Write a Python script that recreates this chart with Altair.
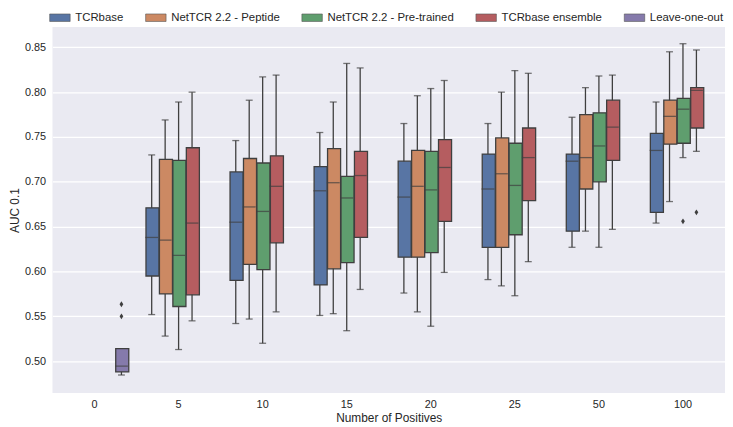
import altair as alt
import pandas as pd

positives = ["0", "5", "10", "15", "20", "25", "50", "100"]
models = ["TCRbase", "NetTCR 2.2 - Peptide", "NetTCR 2.2 - Pre-trained",
          "TCRbase ensemble", "Leave-one-out"]
colors = ["#5875A4", "#CC8963", "#5F9E6E", "#B55D60", "#857AAB"]

# groups with the four main models
group_pos = ["5", "10", "15", "20", "25", "50", "100"]

tcrbase_lo = [0.552, 0.542, 0.551, 0.576, 0.591, 0.627, 0.654]
tcrbase_q1 = [0.595, 0.590, 0.585, 0.616, 0.627, 0.645, 0.666]
tcrbase_med = [0.638, 0.655, 0.690, 0.683, 0.692, 0.723, 0.735]
tcrbase_q3 = [0.671, 0.711, 0.717, 0.723, 0.731, 0.731, 0.754]
tcrbase_hi = [0.730, 0.746, 0.755, 0.765, 0.765, 0.772, 0.789]

peptide_lo = [0.528, 0.547, 0.553, 0.555, 0.584, 0.645, 0.678]
peptide_q1 = [0.575, 0.608, 0.603, 0.616, 0.627, 0.692, 0.742]
peptide_med = [0.635, 0.672, 0.699, 0.695, 0.709, 0.727, 0.773]
peptide_q3 = [0.725, 0.726, 0.737, 0.735, 0.749, 0.775, 0.791]
peptide_hi = [0.769, 0.791, 0.789, 0.796, 0.800, 0.805, 0.845]

pretrained_lo = [0.513, 0.520, 0.534, 0.539, 0.573, 0.627, 0.727]
pretrained_q1 = [0.561, 0.602, 0.610, 0.621, 0.641, 0.700, 0.743]
pretrained_med = [0.618, 0.667, 0.682, 0.691, 0.696, 0.740, 0.781]
pretrained_q3 = [0.724, 0.721, 0.706, 0.734, 0.743, 0.777, 0.793]
pretrained_hi = [0.789, 0.817, 0.832, 0.804, 0.824, 0.818, 0.854]

ensemble_lo = [0.545, 0.555, 0.580, 0.599, 0.611, 0.647, 0.734]
ensemble_q1 = [0.574, 0.632, 0.638, 0.656, 0.679, 0.724, 0.760]
ensemble_med = [0.654, 0.695, 0.707, 0.716, 0.727, 0.761, 0.802]
ensemble_q3 = [0.738, 0.729, 0.734, 0.747, 0.760, 0.791, 0.805]
ensemble_hi = [0.800, 0.819, 0.827, 0.813, 0.821, 0.819, 0.847]

# Leave-one-out at 0 positives
loo_pos = "0"
loo_lo, loo_q1, loo_med, loo_q3, loo_hi = 0.4846, 0.488, 0.4944, 0.514, 0.514

outlier_pos = ["0", "0", "100", "100"]
outlier_model = ["Leave-one-out", "Leave-one-out", "NetTCR 2.2 - Pre-trained", "TCRbase ensemble"]
outlier_val = [0.5635, 0.550, 0.656, 0.666]

rows = []
series = [
    ("TCRbase", tcrbase_lo, tcrbase_q1, tcrbase_med, tcrbase_q3, tcrbase_hi),
    ("NetTCR 2.2 - Peptide", peptide_lo, peptide_q1, peptide_med, peptide_q3, peptide_hi),
    ("NetTCR 2.2 - Pre-trained", pretrained_lo, pretrained_q1, pretrained_med, pretrained_q3, pretrained_hi),
    ("TCRbase ensemble", ensemble_lo, ensemble_q1, ensemble_med, ensemble_q3, ensemble_hi),
]
for name, lo, q1, med, q3, hi in series:
    for i, p in enumerate(group_pos):
        rows.append(dict(pos=p, model=name, lo=lo[i], q1=q1[i], med=med[i], q3=q3[i], hi=hi[i]))
rows.append(dict(pos=loo_pos, model="Leave-one-out", lo=loo_lo, q1=loo_q1, med=loo_med, q3=loo_q3, hi=loo_hi))
box_df = pd.DataFrame(rows)
out_df = pd.DataFrame(dict(pos=outlier_pos, model=outlier_model, value=outlier_val))

EDGE = "#3f3f3f"
FONT = "Liberation Sans"
ydom = [0.4645, 0.8725]

xenc = alt.X("pos:N", sort=positives, title="Number of Positives",
             scale=alt.Scale(domain=positives, paddingInner=0.2, paddingOuter=0.1),
             axis=alt.Axis(labelAngle=0, ticks=False, domain=False, grid=False,
                           labelPadding=6, titlePadding=3))
xoff = alt.XOffset("model:N", sort=models,
                   scale=alt.Scale(domain=models, paddingInner=0, paddingOuter=0))
yaxis = alt.Axis(values=[0.5, 0.55, 0.6, 0.65, 0.7, 0.75, 0.8, 0.85], format=".2f",
                 ticks=False, domain=False, grid=True, labelPadding=7, titlePadding=3)
yscale = alt.Scale(domain=ydom, nice=False, zero=False)

base = alt.Chart(box_df)

whiskers = base.mark_rule(color=EDGE, strokeWidth=1.3).encode(
    x=xenc, xOffset=xoff,
    y=alt.Y("lo:Q", scale=yscale, axis=yaxis, title="AUC 0.1"),
    y2="hi:Q",
)
caps_lo = base.mark_tick(color=EDGE, size=7, thickness=1.3, orient="horizontal").encode(
    x=xenc, xOffset=xoff, y=alt.Y("lo:Q", scale=yscale, title="AUC 0.1"))
caps_hi = base.mark_tick(color=EDGE, size=7, thickness=1.3, orient="horizontal").encode(
    x=xenc, xOffset=xoff, y=alt.Y("hi:Q", scale=yscale, title="AUC 0.1"))
boxes = base.mark_bar(stroke=EDGE, strokeWidth=1.3, width={"band": 0.97}).encode(
    x=xenc, xOffset=xoff,
    y=alt.Y("q1:Q", scale=yscale, title="AUC 0.1"),
    y2="q3:Q",
    color=alt.Color("model:N", sort=models,
                    scale=alt.Scale(domain=models, range=colors),
                    legend=alt.Legend(title=None, orient="top", direction="horizontal",
                                      columns=5, columnPadding=20, offset=4,
                                      symbolType="M-1.5,-0.55H1.5V0.55H-1.5Z",
                                      symbolSize=190, symbolStrokeColor="#555555",
                                      symbolStrokeWidth=0.6, symbolOpacity=1,
                                      labelOffset=8, labelFontSize=11.5)),
)
medians = base.mark_tick(color=EDGE, size=13, thickness=1.3, orient="horizontal").encode(
    x=xenc, xOffset=xoff, y=alt.Y("med:Q", scale=yscale, title="AUC 0.1"))
outliers = alt.Chart(out_df).mark_point(shape="M0,-1L0.65,0L0,1L-0.65,0Z", filled=True,
                                        color=EDGE, size=34, opacity=1).encode(
    x=xenc, xOffset=xoff, y=alt.Y("value:Q", scale=yscale, title="AUC 0.1"))

chart = alt.layer(whiskers, caps_lo, caps_hi, boxes, medians, outliers).properties(
    width=680, height=370, padding=0, background="white"
).configure_view(
    fill="#EAEAF2", stroke=None
).configure_axis(
    gridColor="white", gridWidth=1.1, labelFont=FONT, titleFont=FONT,
    labelFontSize=11, titleFontSize=12, titleFontWeight="normal",
    labelColor="#262626", titleColor="#262626"
).configure_legend(
    labelFont=FONT, labelColor="#262626"
)

chart.save("out.html", embed_options={"renderer": "svg", "actions": False})
